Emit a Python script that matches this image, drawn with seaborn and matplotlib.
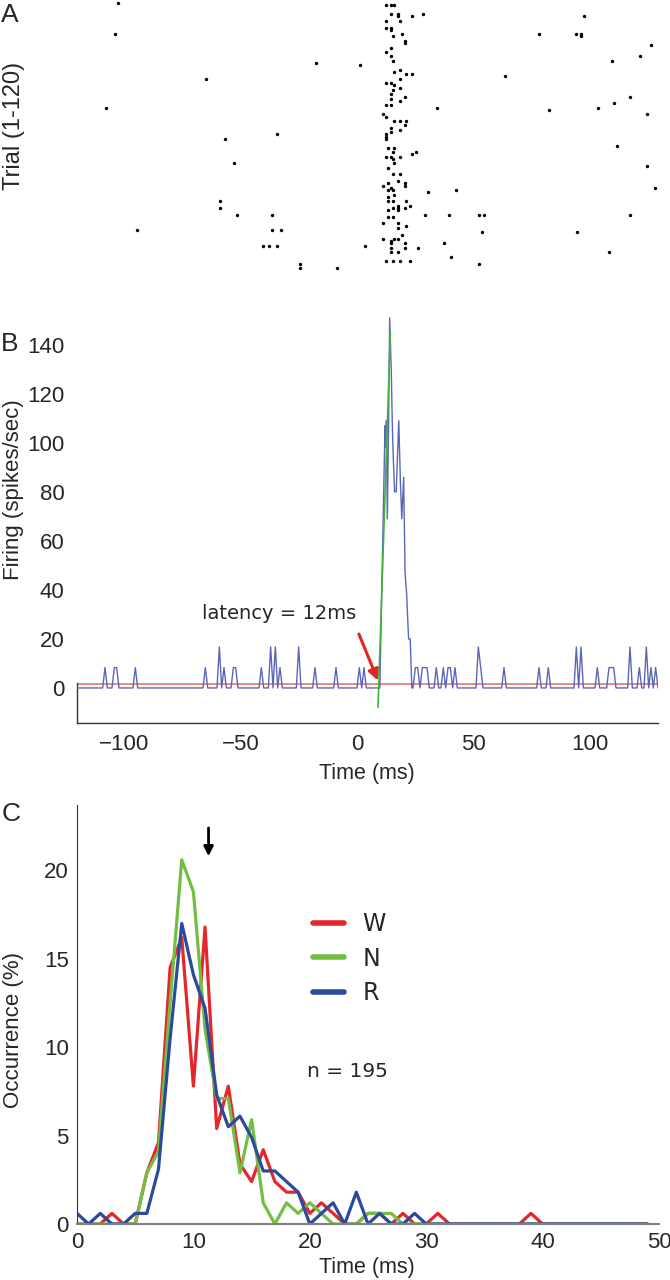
import numpy as np
import pandas as pd
import seaborn as sns
import matplotlib.pyplot as plt

# ---- A: raster, spike times (ms) per trial ----
raster_trials = [1, 2, 6, 7, 9, 12, 13, 15, 16, 18, 19, 20, 21, 23, 25, 27, 28, 29,
                 31, 32, 33, 34, 35, 37, 38, 39, 40, 42, 43, 44, 45, 46, 47, 48, 49,
                 51, 52, 54, 56, 57, 58, 59, 60, 61, 62, 65, 66, 68, 69, 70, 71, 73,
                 74, 75, 78, 81, 82, 83, 84, 85, 86, 87, 88, 90, 92, 93, 94, 96, 97,
                 100, 101, 102, 103, 104, 105, 107, 108, 109, 110, 111, 113, 115,
                 117, 118, 120]
raster_times = [[-102.4], [12.6, 14.4, 16.0], [14.4, 17.5, 28.4], [17.5, 23.5, 97.1],
                [12.6, 18.4], [12.6, 14.4], [14.4], [-103.5, 19.3, 78.1, 94.0, 96.2],
                [15.3, 96.2], [20.4], [20.4], [126.2], [14.4], [12.6], [14.4, 121.1],
                [15.3, 109.5], [-17.7], [1.5], [18.4], [16.0], [23.5, 21.1], [63.4],
                [-64.5, 18.4], [12.6, 14.4], [16.0], [18.4], [15.3], [14.4],
                [20.4, 116.9], [14.4], [18.4], [110.2], [12.6, 14.4],
                [-107.5, 34.1, 103.1], [82.3], [11.3, 124.2], [12.6],
                [18.4, 16.0, 21.1], [20.4], [14.4], [18.4], [14.4], [12.6, -34.4],
                [12.6], [12.6, -56.5], [111.5], [13.1, 16.0], [15.3, 25.3], [23.5],
                [12.6, 14.4, 18.4], [15.3], [-52.5, 16.0], [124.2], [13.1],
                [15.3, 18.4], [17.5], [20.4, 13.1], [11.3, 20.4], [14.4, 127.7],
                [15.3, 13.1, 42.4], [30.4], [16.0], [13.1], [21.1, 13.1, 15.3, -58.5],
                [22.6, 17.5], [20.4, 15.3, -58.5, 17.5], [13.1, 17.5],
                [-51.5, -36.4, 29.3, 39.3, 52.1, 54.3, 116.9], [13.1, 15.3],
                [11.3, 17.5], [21.1], [17.5], [-94.4, -36.4, -32.6], [53.6, 94.2],
                [19.3], [11.3, 17.5, 16.0], [14.4], [20.4, 14.4, 37.3],
                [-40.4, -37.5, -34.4, 3.5], [26.2, 14.4, 20.4], [14.4, 17.5, 108.2],
                [40.4], [12.6, 15.3, 18.4, 22.6], [-24.4, 52.3], [-24.4, -8.6]]

# ---- B: PSTH (spikes/sec) ----
bg_bins = [-108, -104, -103, -95, -65, -59, -57, -53, -52, -41, -37, -35, -33, -25,
           -18, -9, 1, 3, 25, 26, 28, 29, 30, 34, 37, 39, 40, 42, 52, 53, 63, 78,
           82, 94, 96, 103, 108, 109, 110, 117, 121, 124, 126, 128]
bg_rate = [8.3, 8.3, 8.3, 8.3, 8.3, 16.7, 8.3, 8.3, 8.3, 8.3, 16.7, 16.7, 8.3, 16.7,
           8.3, 8.3, 8.3, 8.3, 8.3, 8.3, 8.3, 8.3, 8.3, 8.3, 8.3, 8.3, 8.3, 8.3,
           16.7, 8.3, 8.3, 8.3, 8.3, 16.7, 16.7, 8.3, 8.3, 8.3, 8.3, 16.7, 8.3,
           16.7, 8.3, 8.3]
peak_t = [9.8, 12.0, 12.4, 12.6, 13.0, 13.5, 14.0, 14.7, 15.1, 15.4, 16.1, 16.8,
          17.9, 18.6, 19.2, 20.0, 20.6, 21.3, 22.1, 22.8, 23.5]
peak_rate = [0, 107, 98, 109, 69, 104, 151, 129, 109, 98, 80, 80, 109, 84, 69, 86,
             47, 38, 20, 20, 0]
threshold = 1.8
onset_t = [9.0, 14.3]
onset_rate = [-8, 145]

# ---- C: latency distribution (%) ----
occ_time = list(range(50))
occ_w = [0, 0, 0, 0.6, 0, 0, 2.9, 4.6, 14.5, 16.2,
         7.8, 16.8, 5.4, 7.8, 3.4, 2.4, 4.2, 2.4, 1.8, 1.8,
         0.6, 1.2, 0.6, 0, 0, 0.6, 0.6, 0, 0.6, 0,
         0, 0.6, 0, 0, 0, 0, 0, 0, 0, 0.6,
         0, 0, 0, 0, 0, 0, 0, 0, 0, 0]
occ_n = [0, 0, 0, 0, 0, 0, 2.9, 4.1, 12.5, 20.6,
         18.8, 11.0, 7.1, 7.1, 2.9, 5.9, 1.2, 0, 1.2, 0.6,
         1.2, 0.6, 0, 0, 0, 0.6, 0.6, 0.6, 0, 0,
         0, 0, 0, 0, 0, 0, 0, 0, 0, 0,
         0, 0, 0, 0, 0, 0, 0, 0, 0, 0]
occ_r = [0.6, 0, 0.6, 0, 0, 0.6, 0.6, 3.1, 10.5, 17.0,
         14.1, 12.2, 7.3, 5.5, 6.1, 4.9, 3.0, 3.0, 2.4, 1.8,
         0, 0.6, 1.2, 0, 1.8, 0, 0.6, 0, 0, 0.6,
         0, 0, 0, 0, 0, 0, 0, 0, 0, 0,
         0, 0, 0, 0, 0, 0, 0, 0, 0, 0]
mean_latency = 11.3

sns.set_style("white")
plt.rcParams['font.family'] = ['Liberation Sans', 'DejaVu Sans']

W, H = 670, 1280
fig = plt.figure(figsize=(6.7, 12.8), dpi=100)

def fx(px):
    return px / W

def fy(py):
    return 1 - py / H

# ---------- A ----------
axA = fig.add_axes([fx(77), fy(272), fx(658 - 77), 272 / H])
raster = pd.DataFrame({
    "trial": [t for t, ts in zip(raster_trials, raster_times) for _ in ts],
    "time": [x for ts in raster_times for x in ts],
})
sns.scatterplot(data=raster, x="time", y="trial", color="black", s=6,
                marker="o", linewidth=0, ax=axA, legend=False)
axA.set_xlim(-120, 129)
axA.set_ylim(121.8, -0.35)
axA.set_axis_off()

# ---------- B ----------
axB = fig.add_axes([fx(77), fy(723), fx(658 - 77), (723 - 308) / H])
grid = np.arange(-120, 130)
rate = np.zeros(grid.size)
rate[np.searchsorted(grid, bg_bins)] = bg_rate
lo = grid < peak_t[0]
hi = grid > peak_t[-1]
psth = pd.DataFrame({
    "t": np.concatenate([grid[lo], peak_t, grid[hi]]),
    "rate": np.concatenate([rate[lo], peak_rate, rate[hi]]),
})
axB.axhline(threshold, color="#e06868", lw=1.1, zorder=2)
sns.lineplot(data=psth, x="t", y="rate", color="#5a67b8", lw=1.0, sort=False,
             estimator=None, ax=axB, zorder=3)
sns.lineplot(x=onset_t, y=onset_rate, color="#3fb33a", lw=1.2, ax=axB, zorder=4)
axB.annotate("", xy=(9.0, 3.0), xytext=(0.8, 22),
             arrowprops=dict(arrowstyle="-|>", color="#e3251f", lw=2.2,
                             mutation_scale=16, shrinkA=0, shrinkB=0))
axB.text(-66.5, 30.5, "latency = 12ms", fontsize=14, family="DejaVu Sans",
         va="center", ha="left")
axB.set_xlim(-120, 129)
axB.set_ylim(-14.3, 155)
axB.set_xticks([-100, -50, 0, 50, 100])
axB.set_yticks(range(0, 141, 20))
axB.set_xlabel("")
axB.set_ylabel("")
for s in ["top", "right"]:
    axB.spines[s].set_visible(False)
axB.spines["left"].set_bounds(-14.3, 2)
for s in ["left", "bottom"]:
    axB.spines[s].set_color("#333333")
    axB.spines[s].set_linewidth(1.0)
axB.tick_params(axis="x", direction="in", length=6, width=1, color="#333333",
                labelsize=16, pad=8)
axB.tick_params(axis="y", length=0, labelsize=16, pad=9)

# ---------- C ----------
axC = fig.add_axes([fx(77), fy(1224), fx(659 - 77), (1224 - 805) / H])
for vals, col, lab in [(occ_w, "#e5262b", "W"), (occ_n, "#72bf44", "N"),
                       (occ_r, "#2c4a9c", "R")]:
    sns.lineplot(x=occ_time, y=vals, color=col, lw=2.3, label=lab, ax=axC)
axC.annotate("", xy=(mean_latency, 20.8), xytext=(mean_latency, 22.4),
             arrowprops=dict(arrowstyle="-|>", color="black", lw=2,
                             mutation_scale=14, shrinkA=0, shrinkB=0))
axC.text(19.8, 8.6, "n = 195", fontsize=14.5, family="DejaVu Sans",
         va="center", ha="left")
axC.set_xlim(0, 50)
axC.set_ylim(0, 23.7)
axC.set_xticks(range(0, 51, 10))
axC.set_yticks(range(0, 21, 5))
axC.set_xlabel("")
axC.set_ylabel("")
for s in ["top", "right"]:
    axC.spines[s].set_visible(False)
axC.spines["left"].set_color("#333333")
axC.spines["bottom"].set_color("#808080")
axC.spines["bottom"].set_linewidth(1.5)
axC.tick_params(axis="x", direction="in", length=5, width=1, color="#808080",
                labelsize=16, pad=6)
axC.tick_params(axis="y", direction="in", length=3, width=1, color="#333333",
                labelsize=16, pad=6)
leg = axC.legend(loc="upper left", bbox_to_anchor=(fx(313), fy(912)),
                 bbox_transform=fig.transFigure, frameon=False,
                 handlelength=1.3, handletextpad=0.8, labelspacing=0.45,
                 borderpad=0, borderaxespad=0, prop={"family": "DejaVu Sans", "size": 17})
for line in leg.get_lines():
    line.set_linewidth(4)

# ---------- figure text ----------
for lab, x, y in [("A", 10, 15), ("B", 10, 344), ("C", 11, 814)]:
    fig.text(fx(x), fy(y), lab, fontsize=19, ha="center", va="center")
fig.text(fx(14), fy(126), "Trial (1-120)", rotation=90, fontsize=17,
         ha="center", va="center")
fig.text(fx(14), fy(490), "Firing (spikes/sec)", rotation=90, fontsize=16,
         ha="center", va="center")
fig.text(fx(14), fy(1030), "Occurrence (%)", rotation=90, fontsize=16,
         ha="center", va="center")
fig.text(fx(367), fy(773), "Time (ms)", fontsize=15.5, ha="center", va="center")
fig.text(fx(367), fy(1268), "Time (ms)", fontsize=15.5, ha="center", va="center")

fig.savefig("out.png", dpi=100)
